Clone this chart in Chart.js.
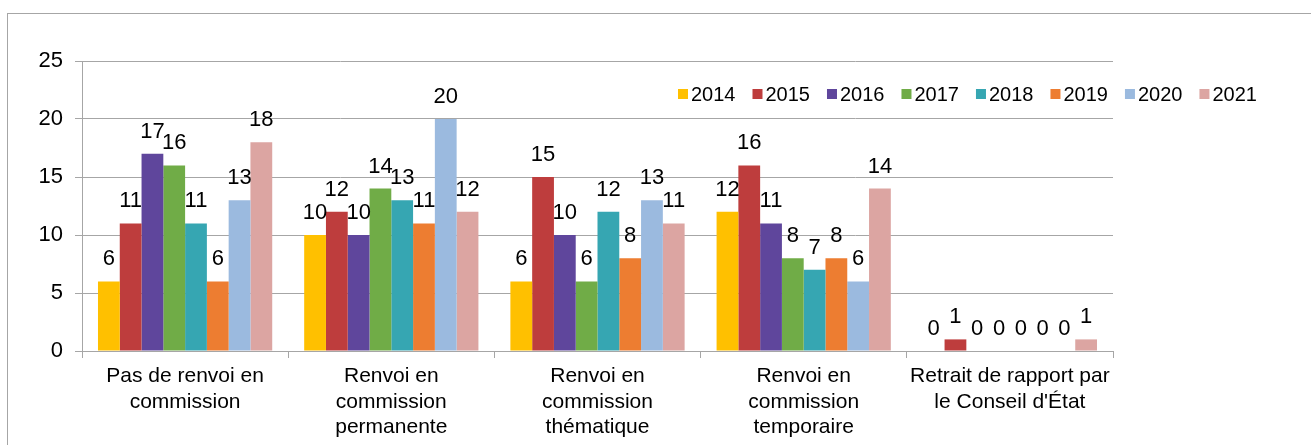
<!DOCTYPE html>
<html>
<head>
<meta charset="utf-8">
<script src="https://cdn.jsdelivr.net/npm/chart.js@4"></script>
<style>
    body { margin: 0; background: #fff; overflow: hidden; }
    #wrap { position: relative; width: 1311px; height: 445px; }
    #frame { position: absolute; left: 7px; top: 13px; width: 1400px; height: 500px; border: 1px solid #a6a6a6; pointer-events: none; }
</style>
</head>
<body>
<div id="wrap">
    <canvas id="chart" width="1311" height="445"></canvas>
    <div id="frame"></div>
</div>
<script>
const categories = [
    ["Pas de renvoi en", "commission"],
    ["Renvoi en", "commission", "permanente"],
    ["Renvoi en", "commission", "thématique"],
    ["Renvoi en", "commission", "temporaire"],
    ["Retrait de rapport par", "le Conseil d'État"]
];
const years = ["2014", "2015", "2016", "2017", "2018", "2019", "2020", "2021"];
const colors = ["#ffc000", "#be3d3d", "#5f469c", "#70ac47", "#36a6b2", "#ed7d31", "#9bbadf", "#dca5a2"];

const v2014 = [6, 10, 6, 12, 0];
const v2015 = [11, 12, 15, 16, 1];
const v2016 = [17, 10, 10, 11, 0];
const v2017 = [16, 14, 6, 8, 0];
const v2018 = [11, 13, 12, 7, 0];
const v2019 = [6, 11, 8, 8, 0];
const v2020 = [13, 20, 13, 6, 0];
const v2021 = [18, 12, 11, 14, 1];
const series = [v2014, v2015, v2016, v2017, v2018, v2019, v2020, v2021];

const yTicks = [0, 5, 10, 15, 20, 25];

const font = "'Liberation Sans', Arial, sans-serif";
const gridColor = "#a6a6a6";

// values above the bars
const valueLabels = {
    id: "valueLabels",
    afterDatasetsDraw(chart) {
        let ctx = chart.ctx;
        ctx.save();
        ctx.font = "22px " + font;
        ctx.fillStyle = "#000";
        ctx.textAlign = "center";
        ctx.textBaseline = "alphabetic";
        chart.data.datasets.forEach((ds, i) => {
            chart.getDatasetMeta(i).data.forEach((bar, j) => {
                ctx.fillText(ds.data[j], bar.x, bar.y - 16);
            });
        });
        ctx.restore();
    }
};

// legend drawn inside the plot, top right
const insideLegend = {
    id: "insideLegend",
    afterDraw(chart) {
        let ctx = chart.ctx;
        ctx.save();
        ctx.font = "20px " + font;
        ctx.textBaseline = "middle";
        let x = 678, y = 94;
        chart.data.datasets.forEach(ds => {
            ctx.fillStyle = ds.backgroundColor;
            ctx.fillRect(x, y - 5, 10, 10);
            x += 13;
            ctx.fillStyle = "#000";
            ctx.fillText(ds.label, x, y + 1);
            x += ctx.measureText(ds.label).width + 17;
        });
        ctx.restore();
    }
};

new Chart(document.getElementById("chart"), {
    type: "bar",
    data: {
        labels: categories,
        datasets: years.map((y, i) => ({
            label: y,
            data: series[i],
            backgroundColor: colors[i],
            categoryPercentage: 0.845,
            barPercentage: 1
        }))
    },
    options: {
        responsive: false,
        animation: false,
        layout: { padding: { top: 61, right: 198, left: 0, bottom: 0 } },
        plugins: {
            legend: { display: false },
            tooltip: { enabled: false }
        },
        scales: {
            x: {
                afterFit: s => { s.height = 94; },
                grid: { display: true, drawOnChartArea: false, offset: true, tickLength: 7, color: gridColor },
                border: { color: gridColor, width: 1 },
                ticks: { color: "#000", font: { family: font, size: 21 }, padding: 6, maxRotation: 0, autoSkip: false }
            },
            y: {
                min: 0,
                max: 25,
                afterFit: s => { s.width = 82; },
                afterBuildTicks: s => { s.ticks = yTicks.map(v => ({ value: v })); },
                grid: { color: gridColor, tickLength: 7 },
                border: { color: gridColor, width: 1 },
                ticks: { color: "#000", font: { family: font, size: 22 }, padding: 12 }
            }
        }
    },
    plugins: [valueLabels, insideLegend]
});
</script>
</body>
</html>
